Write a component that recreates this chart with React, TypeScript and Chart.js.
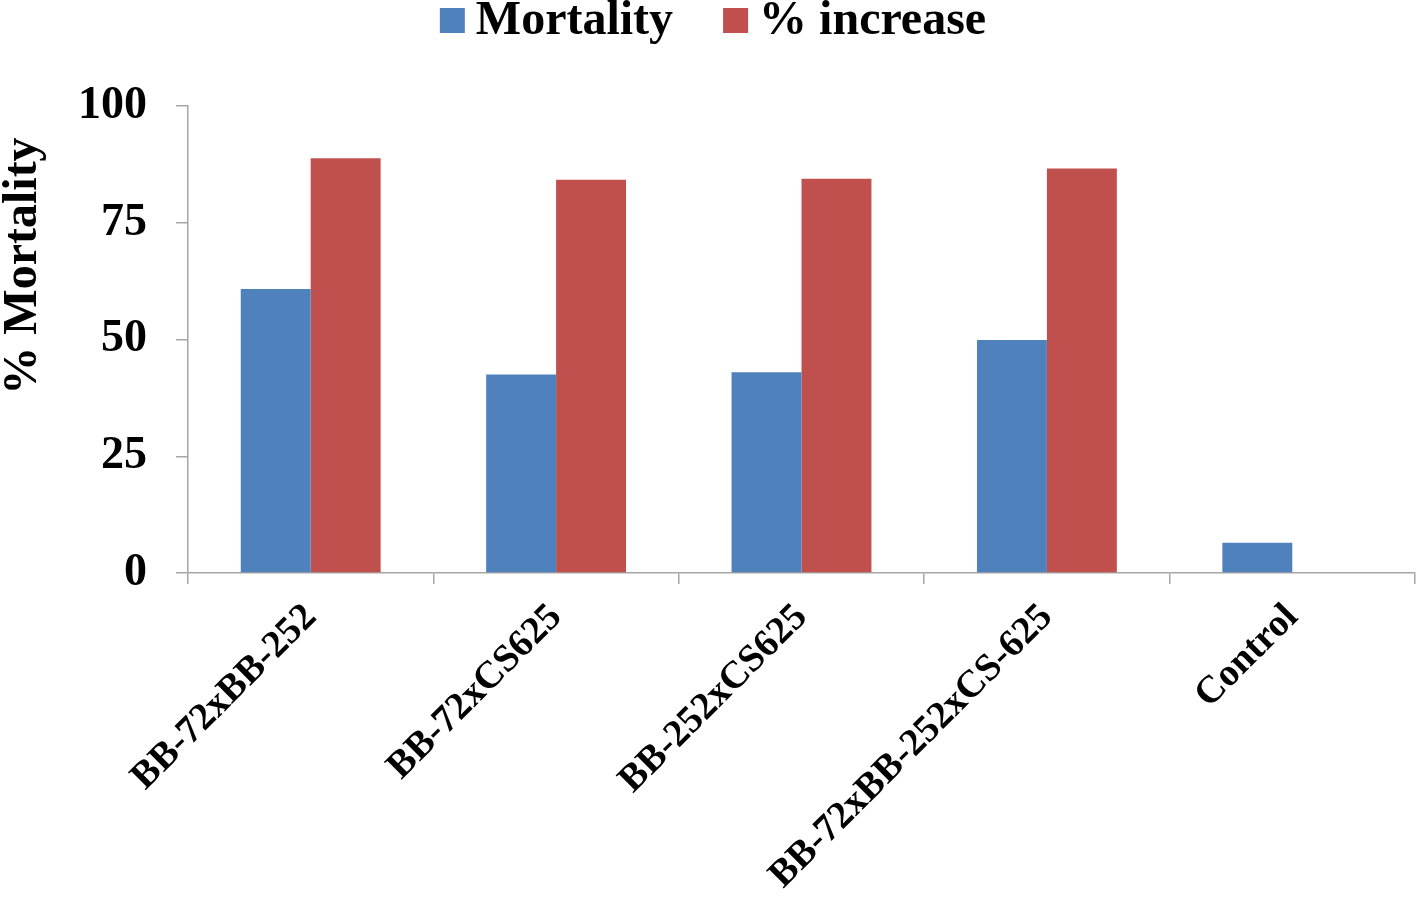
import React, { useEffect, useRef } from "react";
import { Chart, registerables } from "chart.js";

Chart.register(...registerables);

const categories = [
  "BB-72xBB-252",
  "BB-72xCS625",
  "BB-252xCS625",
  "BB-72xBB-252xCS-625",
  "Control",
];
const mortality = [60.8, 42.5, 43.0, 49.9, 6.5];
const percentIncrease: (number | null)[] = [88.8, 84.2, 84.4, 86.6, null];
const seriesNames = ["Mortality", "% increase"];
const seriesColors = ["#4F81BD", "#C0504D"];
const yTicks = [0, 25, 50, 75, 100];
const yTitle = "% Mortality";

const FONT = "'Liberation Serif', 'Times New Roman', serif";

const customText = {
  id: "customText",
  afterDraw(chart: any) {
    const ctx = chart.ctx;
    ctx.save();
    // Legend
    ctx.font = `bold 48px ${FONT}`;
    ctx.textBaseline = "middle";
    ctx.textAlign = "left";
    const box = 25;
    const gap = 11;
    const spacing = 50;
    const items = chart.data.datasets.map((d: any) => ({
      label: d.label,
      color: d.backgroundColor,
      w: box + gap + ctx.measureText(d.label).width,
    }));
    const total =
      items.reduce((s: number, it: any) => s + it.w, 0) +
      spacing * (items.length - 1);
    let x = chart.width / 2 - total / 2 + 4;
    const cy = 20.5;
    items.forEach((it: any) => {
      ctx.fillStyle = it.color;
      ctx.fillRect(x, cy - box / 2, box, box);
      ctx.fillStyle = "#000";
      ctx.fillText(it.label, x + box + gap, cy + 1);
      x += it.w + spacing;
    });
    // Y axis title
    ctx.translate(24, 266);
    ctx.rotate(-Math.PI / 2);
    ctx.textAlign = "center";
    ctx.font = `bold 48px ${FONT}`;
    ctx.fillText(yTitle, 0, 0);
    ctx.restore();
  },
};

export default function App() {
  const ref = useRef<HTMLCanvasElement>(null);
  useEffect(() => {
    if (!ref.current) return;
    const axisColor = "#A6A6A6";
    const chart = new Chart(ref.current, {
      type: "bar",
      data: {
        labels: categories,
        datasets: [
          {
            label: seriesNames[0],
            data: mortality,
            backgroundColor: seriesColors[0],
            borderWidth: 0,
          },
          {
            label: seriesNames[1],
            data: percentIncrease,
            backgroundColor: seriesColors[1],
            borderWidth: 0,
          },
        ],
      },
      options: {
        animation: false,
        responsive: true,
        maintainAspectRatio: false,
        layout: { padding: { top: 106, left: 0, right: 3, bottom: 0 } },
        datasets: {
          bar: { categoryPercentage: 0.57, barPercentage: 1.0 },
        },
        plugins: {
          legend: { display: false },
          tooltip: { enabled: false },
          title: { display: false },
        },
        scales: {
          x: {
            afterFit: (s: any) => {
              s.height = 324;
            },
            grid: {
              display: true,
              offset: true,
              drawOnChartArea: false,
              drawTicks: true,
              tickLength: 11,
              color: axisColor,
              lineWidth: 1.5,
            },
            border: { display: true, color: axisColor, width: 1.5 },
            ticks: {
              autoSkip: false,
              minRotation: 45,
              maxRotation: 45,
              padding: 11,
              color: "#000",
              font: { family: FONT, size: 38.5, weight: "bold" },
            },
          },
          y: {
            min: 0,
            max: 100,
            afterFit: (s: any) => {
              s.width = 188;
            },
            afterBuildTicks: (s: any) => {
              s.ticks = yTicks.map((v) => ({ value: v }));
            },
            grid: {
              display: true,
              drawOnChartArea: false,
              drawTicks: true,
              tickLength: 12,
              color: axisColor,
              lineWidth: 1.5,
            },
            border: { display: true, color: axisColor, width: 1.5 },
            ticks: {
              padding: 29,
              color: "#000",
              font: { family: FONT, size: 46, weight: "bold" },
            },
          },
        },
      },
      plugins: [customText],
    });
    return () => chart.destroy();
  }, []);
  return (
    <div
      style={{
        position: "fixed",
        left: 0,
        top: 0,
        width: 1418,
        height: 897,
        background: "#fff",
      }}
    >
      <canvas ref={ref} />
    </div>
  );
}
